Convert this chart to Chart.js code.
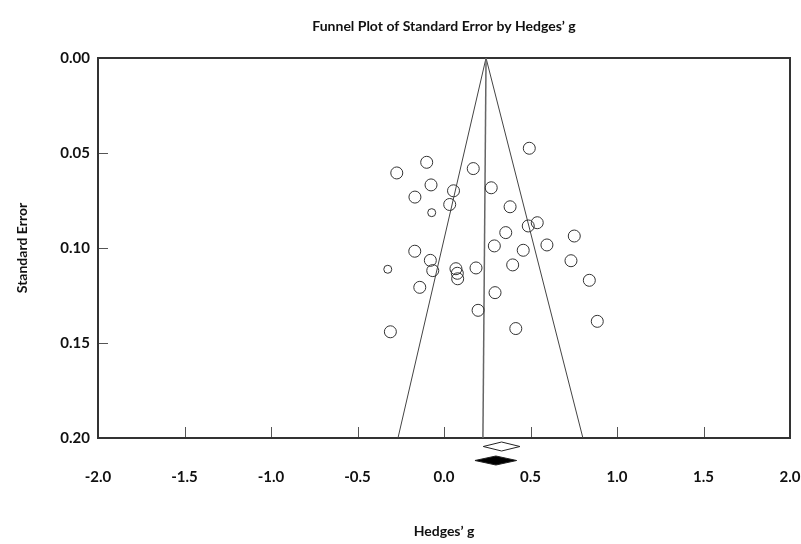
<!DOCTYPE html>
<html>
<head>
<meta charset="utf-8">
<script src="https://cdn.jsdelivr.net/npm/chart.js@4/dist/chart.umd.min.js"></script>
<style>
  body { margin: 0; background: #fff; }
  #wrap { width: 801px; height: 544px; }
</style>
</head>
<body>
<div id="wrap"><canvas id="funnelChart"></canvas></div>
<script>
// study effect sizes (Hedges' g) and standard errors
const hedgesG = [
  0.493, -0.100, -0.273, 0.169, -0.075, 0.055, 0.273, -0.168, 0.033, 0.382,
  -0.071, 0.487, 0.539, 0.357, 0.753, -0.169, 0.291, 0.458, 0.595, -0.079,
  0.734, -0.325, -0.065, 0.069, 0.077, 0.079, 0.185, 0.397, 0.840, -0.140,
  0.295, 0.197, 0.886, -0.310, 0.415,
];
const stdErr = [
  0.0475, 0.0549, 0.0605, 0.0582, 0.0668, 0.0699, 0.0683, 0.0732, 0.0771, 0.0783,
  0.0814, 0.0884, 0.0867, 0.0919, 0.0937, 0.1017, 0.0989, 0.1012, 0.0984, 0.1065,
  0.1067, 0.1112, 0.1119, 0.1109, 0.1133, 0.1162, 0.1105, 0.1089, 0.1170, 0.1207,
  0.1235, 0.1328, 0.1386, 0.1441, 0.1424,
];
// two studies are drawn with a smaller marker
const smallMarker = [10, 21];

// funnel: apex and the two ends at SE = 0.20
const funnelApex = { x: 0.243, y: 0 };
const funnelLeftEnd = { x: -0.266, y: 0.2 };
const funnelRightEnd = { x: 0.803, y: 0.2 };
const centerLineEnd = { x: 0.225, y: 0.2 };

// summary diamonds under the axis: [lower, estimate, upper]
const observedSummary = [0.227, 0.333, 0.439];
const adjustedSummary = [0.179, 0.300, 0.420];

const xTicks = [-2.0, -1.5, -1.0, -0.5, 0.0, 0.5, 1.0, 1.5, 2.0];
const yTicks = [0.0, 0.05, 0.1, 0.15, 0.2];

const points = hedgesG.map((g, i) => ({ x: g, y: stdErr[i] }));
const radii = hedgesG.map((g, i) => (smallMarker.includes(i) ? 4 : 6));

const fam = "Lato, 'Open Sans', sans-serif";
const tickFont = { family: fam, weight: "bold", size: 15 };
const titleFont = { family: fam, weight: "bold", size: 14 };

// frame, inner tick marks and the two diamonds
const funnelExtras = {
  id: "funnelExtras",
  beforeDatasetsDraw(chart) {
    const { ctx, chartArea: a, scales } = chart;
    ctx.save();
    ctx.strokeStyle = "#555";
    ctx.lineWidth = 1;
    xTicks.slice(1, -1).forEach((t) => {
      const px = Math.round(scales.x.getPixelForValue(t)) + 0.5;
      ctx.beginPath();
      ctx.moveTo(px, a.bottom);
      ctx.lineTo(px, a.bottom - 11);
      ctx.stroke();
    });
    yTicks.slice(1, -1).forEach((t) => {
      const py = Math.round(scales.y.getPixelForValue(t)) + 0.5;
      ctx.beginPath();
      ctx.moveTo(a.left, py);
      ctx.lineTo(a.left + 10, py);
      ctx.stroke();
    });
    ctx.strokeStyle = "#333";
    ctx.lineWidth = 2;
    ctx.strokeRect(a.left, a.top, a.right - a.left, a.bottom - a.top);
    ctx.restore();
  },
  afterDraw(chart) {
    const { ctx, chartArea: a, scales } = chart;
    const diamond = (vals, cy, fill) => {
      const [lo, est, hi] = vals.map((v) => scales.x.getPixelForValue(v));
      ctx.beginPath();
      ctx.moveTo(lo, cy);
      ctx.lineTo(est, cy - 4.5);
      ctx.lineTo(hi, cy);
      ctx.lineTo(est, cy + 4.5);
      ctx.closePath();
      ctx.fillStyle = fill;
      ctx.fill();
      ctx.strokeStyle = "#222";
      ctx.lineWidth = 1;
      ctx.stroke();
    };
    ctx.save();
    diamond(observedSummary, a.bottom + 8.5, "#fff");
    diamond(adjustedSummary, a.bottom + 22.5, "#000");
    ctx.restore();
  },
};

const ctx = document.getElementById("funnelChart");
const funnelChart = new Chart(ctx, {
  type: "scatter",
  data: {
    datasets: [
      {
        label: "studies",
        data: points,
        pointRadius: radii,
        pointBorderColor: "#333",
        pointBackgroundColor: "rgba(255,255,255,0)",
        pointBorderWidth: 1,
        showLine: false,
      },
      {
        label: "center",
        data: [funnelApex, centerLineEnd],
        showLine: true,
        borderColor: "#666",
        borderWidth: 1.5,
        pointRadius: 0,
      },
      {
        label: "left",
        data: [funnelApex, funnelLeftEnd],
        showLine: true,
        borderColor: "#444",
        borderWidth: 1,
        pointRadius: 0,
      },
      {
        label: "right",
        data: [funnelApex, funnelRightEnd],
        showLine: true,
        borderColor: "#444",
        borderWidth: 1,
        pointRadius: 0,
      },
    ],
  },
  options: {
    responsive: true,
    maintainAspectRatio: false,
    animation: false,
    layout: { padding: { left: 0, right: 11, top: 0, bottom: 0 } },
    plugins: {
      legend: { display: false },
      tooltip: { enabled: false },
      title: { display: false },
    },
    scales: {
      // top axis only carries the chart title, centred over the plot
      xTop: {
        type: "linear",
        position: "top",
        min: -2,
        max: 2,
        afterFit: (axis) => {
          axis.height = 58;
          axis.paddingLeft = 0;
          axis.paddingRight = 0;
        },
        ticks: { display: false },
        grid: { display: false, drawTicks: false },
        border: { display: false },
        title: {
          display: true,
          text: "Funnel Plot of Standard Error by Hedges’ g",
          color: "#111",
          font: titleFont,
          padding: { top: 18, bottom: 0 },
        },
      },
      x: {
        type: "linear",
        min: -2,
        max: 2,
        afterBuildTicks: (axis) => {
          axis.ticks = xTicks.map((v) => ({ value: v }));
        },
        afterFit: (axis) => {
          axis.height = 106;
          axis.paddingLeft = 10;
          axis.paddingRight = 10;
        },
        ticks: {
          color: "#111",
          font: tickFont,
          padding: 30,
          callback: (v) => Number(v).toFixed(1),
        },
        grid: { display: false, drawTicks: false },
        border: { display: false },
        title: {
          display: true,
          text: "Hedges’ g",
          color: "#111",
          font: titleFont,
          padding: { top: 0, bottom: 4 },
        },
      },
      y: {
        type: "linear",
        reverse: true,
        min: 0,
        max: 0.2,
        afterBuildTicks: (axis) => {
          axis.ticks = yTicks.map((v) => ({ value: v }));
        },
        afterFit: (axis) => {
          axis.width = 98;
        },
        ticks: {
          color: "#111",
          font: tickFont,
          padding: 8,
          callback: (v) => Number(v).toFixed(2),
        },
        grid: { display: false, drawTicks: false },
        border: { display: false },
        title: {
          display: true,
          text: "Standard Error",
          color: "#111",
          font: titleFont,
          padding: { top: 14, bottom: 0 },
        },
      },
    },
  },
  plugins: [funnelExtras],
});
</script>
</body>
</html>
